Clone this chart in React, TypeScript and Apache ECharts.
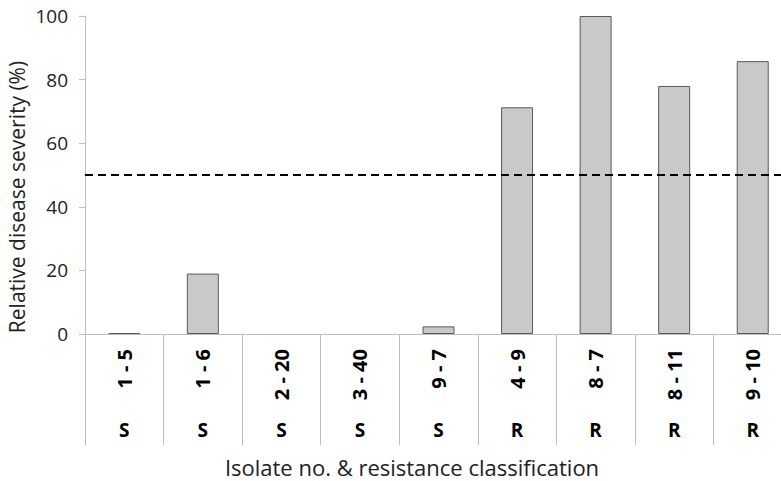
import React, { useEffect, useRef } from "react";
import * as echarts from "echarts";

const isolates = ["1 - 5", "1 - 6", "2 - 20", "3 - 40", "9 - 7", "4 - 9", "8 - 7", "8 - 11", "9 - 10"];
const classes = ["S", "S", "S", "S", "S", "R", "R", "R", "R"];
const severity = [0.3, 19, 0, 0, 2.4, 71.3, 100, 78, 85.8];
const threshold = 50;
const yTicks = [0, 20, 40, 60, 80, 100];

const FONT = "'Open Sans', 'Noto Sans', sans-serif";

export default function App() {
  const ref = useRef<HTMLDivElement>(null);
  useEffect(() => {
    if (!ref.current) return;
    const chart = echarts.init(ref.current, undefined, { renderer: "svg" });
    const barData = severity.map((v) =>
      v === 0 ? { value: v, itemStyle: { borderWidth: 0 } } : v
    );
    chart.setOption({
      animation: false,
      backgroundColor: "#ffffff",
      grid: { left: 85, top: 16, width: 707, height: 318, containLabel: false },
      xAxis: [
        {
          type: "category",
          data: isolates,
          position: "bottom",
          axisLine: { show: true, lineStyle: { color: "#bdbdbd", width: 1 } },
          axisTick: { show: true, length: 111, alignWithLabel: false, lineStyle: { color: "#bdbdbd", width: 1 } },
          axisLabel: {
            rotate: 90,
            margin: 15,
            fontFamily: FONT,
            fontWeight: "bold",
            fontSize: 20,
            color: "#000",
            interval: 0,
          },
        },
        {
          type: "category",
          data: classes,
          position: "bottom",
          offset: 0,
          axisLine: { show: false },
          axisTick: { show: false },
          axisLabel: {
            margin: 86,
            fontFamily: FONT,
            fontWeight: "bold",
            fontSize: 19,
            color: "#000",
            interval: 0,
          },
        },
      ],
      yAxis: {
        type: "value",
        min: yTicks[0],
        max: yTicks[yTicks.length - 1],
        interval: 20,
        axisLine: { show: true, lineStyle: { color: "#bdbdbd", width: 1 } },
        axisTick: { show: true, length: 6, lineStyle: { color: "#bdbdbd" } },
        splitLine: { show: false },
        axisLabel: { margin: 17, fontFamily: FONT, fontSize: 19, color: "#222" },
      },
      graphic: [
        {
          type: "text",
          x: 17,
          y: 197,
          rotation: Math.PI / 2,
          style: {
            text: "Relative disease severity (%)",
            fontFamily: FONT,
            fontSize: 21,
            fill: "#222",
            textAlign: "center",
            textVerticalAlign: "middle",
          },
        },
        {
          type: "text",
          x: 412,
          y: 467,
          style: {
            text: "Isolate no. & resistance classification",
            fontFamily: FONT,
            fontSize: 22,
            fill: "#222",
            textAlign: "center",
            textVerticalAlign: "middle",
          },
        },
      ],
      series: [
        {
          type: "bar",
          xAxisIndex: 0,
          data: barData,
          barWidth: 32,
          itemStyle: { color: "#c9c9c9", borderColor: "#5a5a5a", borderWidth: 1 },
          markLine: {
            silent: true,
            symbol: ["none", "none"],
            label: { show: false },
            lineStyle: { color: "#000", width: 2, type: [8, 5] },
            data: [{ yAxis: threshold }],
          },
        },
      ],
    });
    return () => chart.dispose();
  }, []);
  return (
    <div style={{ width: 781, height: 481, position: "absolute", left: 0, top: 0, overflow: "hidden", background: "#fff" }}>
      <div ref={ref} style={{ width: 800, height: 481 }} />
    </div>
  );
}
